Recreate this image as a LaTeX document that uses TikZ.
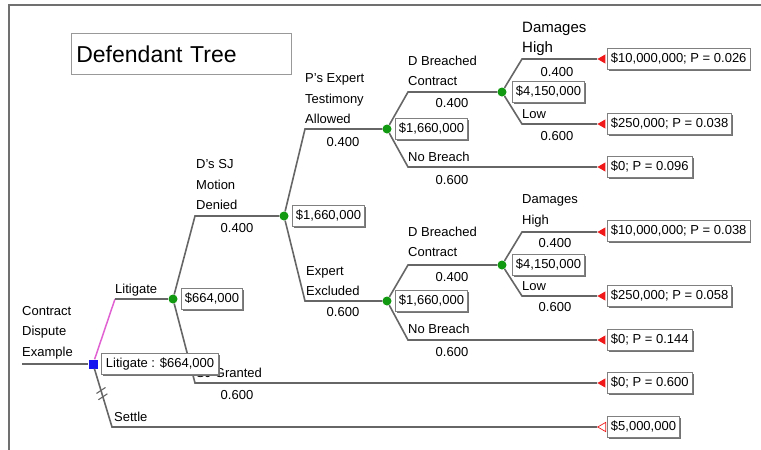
\documentclass[tikz,border=0pt]{standalone}
\usepackage{fontspec}
\setmainfont{Liberation Sans}
\usetikzlibrary{shapes.geometric,shadows,calc}
\definecolor{branch}{HTML}{666666}
\definecolor{chance}{HTML}{119A11}
\definecolor{decide}{HTML}{1515F0}
\definecolor{pinkline}{HTML}{E062D2}
\definecolor{endred}{HTML}{F01818}
\definecolor{framegray}{HTML}{707070}
\definecolor{boxline}{HTML}{808080}
\begin{document}
\begin{tikzpicture}[x=1pt,y=-1pt,
  every node/.style={font=\fontsize{13}{20.5}\selectfont, inner sep=0pt},
  lbl/.style={anchor=west, align=left},
  valbox/.style={anchor=west, draw=boxline, fill=white, line width=0.9pt,
    inner xsep=3.5pt, minimum height=21pt,
    drop shadow={shadow xshift=1.4pt, shadow yshift=-1.4pt, fill=black!55, opacity=1}},
  chancenode/.style={circle, fill=chance, minimum size=9pt},
  decnode/.style={rectangle, fill=decide, minimum size=9pt},
  endnode/.style={isosceles triangle, isosceles triangle apex angle=60,
    shape border rotate=180, fill=endred, minimum size=8pt, anchor=apex},
  endopen/.style={endnode, fill=white, draw=endred, line width=0.7pt},
  br/.style={draw=branch, line width=1.6pt},
]
\useasboundingbox (0,0) rectangle (761,450);

% outer frame (left and top edges)
\coordinate (fa) at (9,450);
\coordinate (fb) at (9,5);
\coordinate (fc) at (761,5);
\draw[draw=framegray, line width=1.5pt] (fa) -- (fb) -- (fc);

% title
\node[draw=boxline!80, line width=0.7pt, anchor=north west, minimum width=220pt,
  minimum height=41pt, text width=210pt, inner xsep=5pt, align=left,
  font=\fontsize{23}{26}\selectfont] (title) at (71,33) {Defendant Tree};

% decision and chance nodes
\node[decnode] (d0) at (93,364) {};
\node[chancenode] (c1) at (173,299) {};
\node[chancenode] (c2) at (284,216) {};
\node[chancenode] (c3) at (387,129) {};
\node[chancenode] (c4) at (502,92) {};
\node[chancenode] (c5) at (387,301) {};
\node[chancenode] (c6) at (502,265) {};

% terminal markers
\node[endnode] (e1) at (597,59) {};
\node[endnode] (e2) at (597,124) {};
\node[endnode] (e3) at (597,167) {};
\node[endnode] (e4) at (597,232) {};
\node[endnode] (e5) at (597,296) {};
\node[endnode] (e6) at (597,340) {};
\node[endnode] (e7) at (597,383) {};
\node[endopen] (e8) at (597,427) {};

% branch corners
\coordinate (r0) at (22,364);
\coordinate (kL) at (115,299);
\coordinate (kS) at (112,427);
\coordinate (kD) at (195,216);
\coordinate (kG) at (195,383);
\coordinate (kA) at (305,129);
\coordinate (kX) at (305,301);
\coordinate (kB1) at (408,92);
\coordinate (kN1) at (408,167);
\coordinate (kH1) at (522,59);
\coordinate (kW1) at (522,124);
\coordinate (kB2) at (408,265);
\coordinate (kN2) at (408,340);
\coordinate (kH2) at (522,232);
\coordinate (kW2) at (522,296);

% branches
\draw[br] (r0) -- (d0);
\draw[draw=pinkline, line width=1.5pt] (d0) -- (kL);
\draw[br] (kL) -- (c1);
\draw[br] (d0) -- (kS) -- (e8.apex);
% the two bars that mark the Settle branch
\draw[br, line width=1.1pt] ($(d0)!0.42!(kS)+(-4.5,3)$) -- ++(9,-6);
\draw[br, line width=1.1pt] ($(d0)!0.52!(kS)+(-4.5,3)$) -- ++(9,-6);
\draw[br] (c1) -- (kD) -- (c2);
\draw[br] (c1) -- (kG) -- (e7.apex);
\draw[br] (c2) -- (kA) -- (c3);
\draw[br] (c2) -- (kX) -- (c5);
\draw[br] (c3) -- (kB1) -- (c4);
\draw[br] (c3) -- (kN1) -- (e3.apex);
\draw[br] (c4) -- (kH1) -- (e1.apex);
\draw[br] (c4) -- (kW1) -- (e2.apex);
\draw[br] (c5) -- (kB2) -- (c6);
\draw[br] (c5) -- (kN2) -- (e6.apex);
\draw[br] (c6) -- (kH2) -- (e4.apex);
\draw[br] (c6) -- (kW2) -- (e5.apex);

% branch labels
\node[lbl] (lbRoot) at (22,332.5) {Contract\\Dispute\\Example};
\node[lbl] (lbLit) at (115,290) {Litigate};
\node[lbl] (lbSet) at (114,417) {Settle};
\node[lbl] (lbDen) at (196,185) {D's SJ\\Motion\\Denied};
\node[lbl] (lbGr) at (196,373) {SJ Granted};
\node[lbl] (lbAll) at (305,99) {P's Expert\\Testimony\\Allowed};
\node[lbl] (lbExc) at (306,281) {Expert\\Excluded};
\node[lbl] (lbBr1) at (408,71) {D Breached\\Contract};
\node[lbl] (lbNo1) at (408,157) {No Breach};
\node[lbl, font=\fontsize{15}{20.5}\selectfont] (lbHi1) at (522,39) {Damages\\High};
\node[lbl] (lbLo1) at (522,114) {Low};
\node[lbl] (lbBr2) at (408,242) {D Breached\\Contract};
\node[lbl] (lbNo2) at (408,329) {No Breach};
\node[lbl] (lbHi2) at (522,211) {Damages\\High};
\node[lbl] (lbLo2) at (522,286) {Low};

% probabilities
\node (p1) at (237,228) {0.400};
\node (p2) at (237,395) {0.600};
\node (p3) at (343,142) {0.400};
\node (p4) at (343,312) {0.600};
\node (p5) at (452,103) {0.400};
\node (p6) at (452,180) {0.600};
\node (p7) at (557,72) {0.400};
\node (p8) at (557,136) {0.600};
\node (p9) at (452,277) {0.400};
\node (p10) at (452,352) {0.600};
\node (p11) at (555,243) {0.400};
\node (p12) at (555,307) {0.600};

% expected values
\node[valbox] (v1) at (181,299) {\$664,000};
\node[valbox] (v2) at (292,216) {\$1,660,000};
\node[valbox] (v3) at (395,129) {\$1,660,000};
\node[valbox] (v4) at (512,92) {\$4,150,000};
\node[valbox] (v5) at (395,301) {\$1,660,000};
\node[valbox] (v6) at (512,265) {\$4,150,000};
\node[valbox, inner xsep=4.5pt] (v0) at (101,364) {Litigate : \$664,000};

% payoffs
\node[valbox] (t1) at (607,59) {\$10,000,000; P = 0.026};
\node[valbox] (t2) at (607,124) {\$250,000; P = 0.038};
\node[valbox] (t3) at (607,167) {\$0; P = 0.096};
\node[valbox] (t4) at (607,231) {\$10,000,000; P = 0.038};
\node[valbox] (t5) at (607,296) {\$250,000; P = 0.058};
\node[valbox] (t6) at (607,340) {\$0; P = 0.144};
\node[valbox] (t7) at (607,383) {\$0; P = 0.600};
\node[valbox] (t8) at (607,427) {\$5,000,000};
\end{tikzpicture}
\end{document}
